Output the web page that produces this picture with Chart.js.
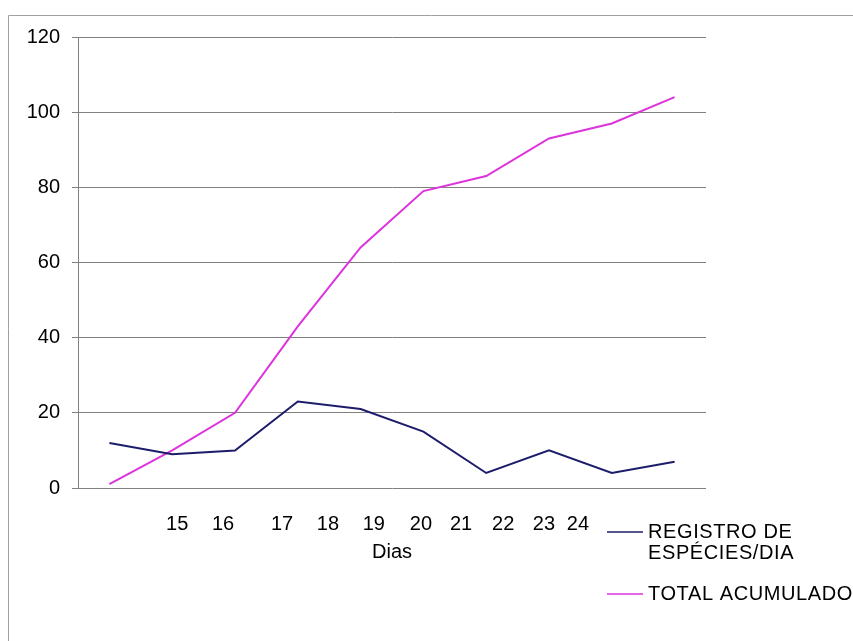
<!DOCTYPE html>
<html>
<head>
<meta charset="utf-8">
<script src="https://cdn.jsdelivr.net/npm/chart.js@4/dist/chart.umd.min.js"></script>
<style>
  html, body { margin: 0; padding: 0; background: #ffffff; }
  #wrap { width: 853px; height: 641px; position: relative; }
</style>
</head>
<body>
<div id="wrap"><canvas id="c" width="853" height="641"></canvas></div>
<script>
// ---- data ----
const categories = ['1', '2', '3', '4', '5', '6', '7', '8', '9', '10'];
const registroDia = [12, 9, 10, 23, 21, 15, 4, 10, 4, 7];
const totalAcumulado = [1, 10, 20, 43, 64, 79, 83, 93, 97, 104];
const dayLabels = ['15', '16', '17', '18', '19', '20', '21', '22', '23', '24'];
// where each day label sits along the category scale (in category units)
const dayLabelPos = [1.08, 1.81, 2.75, 3.48, 4.21, 4.96, 5.60, 6.27, 6.92, 7.46];
const yTicks = [0, 20, 40, 60, 80, 100, 120];
const seriesNames = ['REGISTRO DE ESPÉCIES/DIA', 'TOTAL ACUMULADO'];
const legendLines = [['REGISTRO DE', 'ESPÉCIES/DIA'], ['TOTAL ACUMULADO']];
const xTitle = 'Dias';

const FONT = '"Liberation Sans", Arial, sans-serif';

const framePlugin = {
  id: 'frame',
  beforeDraw(chart) {
    const ctx = chart.ctx;
    ctx.save();
    ctx.strokeStyle = '#a0a0a0';
    ctx.lineWidth = 1;
    ctx.beginPath();
    ctx.moveTo(8.5, chart.height + 5);
    ctx.lineTo(8.5, 15.5);
    ctx.lineTo(chart.width + 5, 15.5);
    ctx.stroke();
    ctx.restore();
  }
};

const legendPlugin = {
  id: 'sideLegend',
  afterDraw(chart) {
    const ctx = chart.ctx;
    const ca = chart.chartArea;
    const starts = [ca.bottom + 44, ca.bottom + 106];
    ctx.save();
    ctx.font = '20px ' + FONT;
    ctx.textBaseline = 'middle';
    ctx.textAlign = 'left';
    if ('letterSpacing' in ctx) ctx.letterSpacing = '0.6px';
    chart.data.datasets.forEach((ds, i) => {
      const y = starts[i];
      ctx.strokeStyle = ds.borderColor;
      ctx.lineWidth = 1.5;
      ctx.beginPath();
      ctx.moveTo(ca.right - 99, y);
      ctx.lineTo(ca.right - 63, y);
      ctx.stroke();
      ctx.fillStyle = '#000000';
      legendLines[i].forEach((t, j) => {
        ctx.fillText(t, ca.right - 58, y + j * 21);
      });
    });
    ctx.restore();
  }
};

new Chart(document.getElementById('c'), {
  type: 'line',
  data: {
    labels: categories,
    datasets: [
      {
        label: seriesNames[0],
        data: registroDia,
        borderColor: '#1c1c6a',
        borderWidth: 2,
        pointRadius: 0,
        tension: 0,
        fill: false
      },
      {
        label: seriesNames[1],
        data: totalAcumulado,
        borderColor: '#dd33dd',
        borderWidth: 2,
        pointRadius: 0,
        tension: 0,
        fill: false
      }
    ]
  },
  options: {
    responsive: false,
    animation: false,
    devicePixelRatio: 1,
    layout: { padding: { left: 0, top: 37, right: 147, bottom: 0 } },
    plugins: {
      legend: { display: false },
      tooltip: { enabled: false }
    },
    scales: {
      x: {
        type: 'category',
        display: false,
        offset: true
      },
      xd: {
        type: 'linear',
        position: 'bottom',
        min: -0.5,
        max: 9.5,
        grid: { display: false },
        border: { display: false },
        afterBuildTicks(scale) {
          scale.ticks = dayLabelPos.map(v => ({ value: v }));
        },
        afterFit(scale) { scale.height = 153; },
        ticks: {
          autoSkip: false,
          maxRotation: 0,
          padding: 16,
          color: '#000000',
          font: { family: FONT, size: 20 },
          callback: (v, i) => dayLabels[i]
        },
        title: {
          display: true,
          text: xTitle,
          color: '#000000',
          font: { family: FONT, size: 20 },
          padding: { top: 0, bottom: 77 }
        }
      },
      y: {
        min: 0,
        max: 120,
        afterBuildTicks(scale) {
          scale.ticks = yTicks.map(v => ({ value: v }));
        },
        afterFit(scale) { scale.width = 78; },
        grid: { color: '#808080', lineWidth: 1, tickLength: 6, drawTicks: true },
        border: { display: true, color: '#808080', width: 1 },
        ticks: {
          padding: 12,
          color: '#000000',
          font: { family: FONT, size: 20 }
        }
      }
    }
  },
  plugins: [framePlugin, legendPlugin]
});
</script>
</body>
</html>
